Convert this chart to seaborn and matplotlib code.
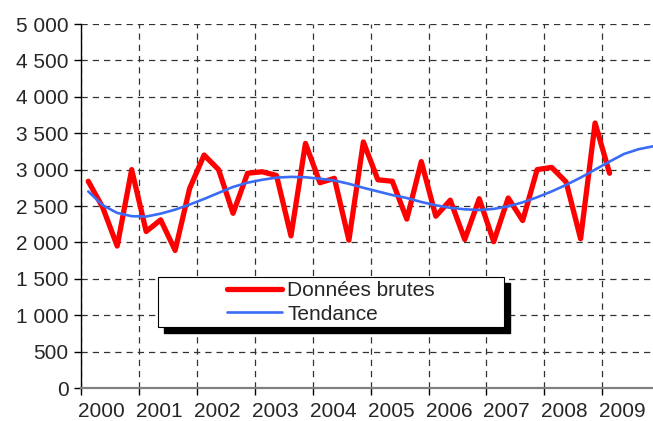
""" Quarterly raw data with its trend curve, 2000-2009. """
import numpy as np
import pandas as pd
import matplotlib
matplotlib.use('Agg')
import matplotlib.pyplot as plt
from matplotlib.patches import Rectangle
from matplotlib.ticker import MultipleLocator, FixedLocator, FuncFormatter
import seaborn as sns

# Quarterly values, 2000 Q1 .. 2009 Q1
raw_values = [2840, 2480, 1950, 3000, 2150, 2310, 1890, 2740,
              3200, 3000, 2400, 2950, 2970, 2920, 2090, 3360,
              2820, 2880, 2030, 3380, 2860, 2840, 2320, 3110,
              2360, 2580, 2040, 2600, 2010, 2610, 2300, 3000,
              3030, 2830, 2050, 3640, 2950]
# Trend curve, 2000 Q1 .. 2009 Q4
trend_values = [2700, 2510, 2405, 2360, 2355, 2395, 2450, 2520,
                2597, 2680, 2762, 2820, 2860, 2890, 2900, 2895,
                2875, 2850, 2805, 2750, 2700, 2650, 2610, 2555,
                2510, 2475, 2455, 2445, 2460, 2495, 2550, 2620,
                2700, 2790, 2890, 3000, 3110, 3215, 3280, 3320]
years = [str(y) for y in range(2000, 2010)]
raw_label = 'Données brutes'
trend_label = 'Tendance'

sns.set_style('white')
plt.rcParams['font.family'] = ['Liberation Sans', 'DejaVu Sans']
plt.rcParams['font.size'] = 15

raw = pd.DataFrame({'q': np.arange(len(raw_values)) + 0.5, 'v': raw_values})
trend = pd.DataFrame({'q': np.arange(len(trend_values)) + 0.5, 'v': trend_values})

fig = plt.figure(figsize=(6.53, 4.21), dpi=100)
ax = fig.add_axes([81 / 653, 1 - 388 / 421, 572 / 653, 364 / 421])

sns.lineplot(data=raw, x='q', y='v', ax=ax, color='#ff0000', lw=3.8,
             label=raw_label, zorder=3)
sns.lineplot(data=trend, x='q', y='v', ax=ax, color='#3a6cf5', lw=1.9,
             label=trend_label, zorder=4)

ax.set_xlim(0, 39.5)
ax.set_ylim(0, 5000)
ax.set_xlabel('')
ax.set_ylabel('')

# year boundaries as major ticks, year labels as minor ticks
ax.xaxis.set_major_locator(MultipleLocator(4))
ax.xaxis.set_major_formatter(FuncFormatter(lambda v, p: ''))
ax.xaxis.set_minor_locator(FixedLocator([4 * i + 1.4 for i in range(len(years))]))
ax.set_xticklabels(years, minor=True)
ax.tick_params(axis='x', which='major', direction='out', length=5,
               width=1, color='black', bottom=True)
ax.tick_params(axis='x', which='minor', length=0, pad=10, labelsize=15,
               bottom=True)

ax.yaxis.set_major_locator(MultipleLocator(500))
ax.yaxis.set_major_formatter(FuncFormatter(lambda v, p: f'{v:,.0f}'.replace(',', ' ')))
ax.tick_params(axis='y', direction='out', length=5, width=1, color='black',
               pad=4, labelsize=15, left=True)

ax.set_axisbelow(True)
ax.grid(True, which='major', color='#333333', lw=0.9, ls=(0, (5, 4)))

for s in ['top', 'right']:
    ax.spines[s].set_visible(False)
ax.spines['left'].set_color('black')
ax.spines['left'].set_linewidth(1)
ax.spines['bottom'].set_color('#808080')
ax.spines['bottom'].set_linewidth(1.6)

# legend box with a hard black shadow
x0, x1 = (158 - 81) / 572, (504 - 81) / 572
y0, y1 = (388 - 327) / 364, (388 - 277) / 364
dx, dy = 6 / 572, 6 / 364
ax.add_patch(Rectangle((x0 + dx, y0 - dy), x1 - x0, y1 - y0, transform=ax.transAxes,
                       facecolor='black', edgecolor='black', zorder=5))
ax.add_patch(Rectangle((x0, y0), x1 - x0, y1 - y0, transform=ax.transAxes,
                       facecolor='white', edgecolor='black', lw=0.8, zorder=6))
leg = ax.legend(loc='upper left', bbox_to_anchor=((227 - 81) / 572, (388 - 281) / 364),
                frameon=False, borderpad=0, borderaxespad=0, handlelength=2.65,
                handletextpad=0.25, labelspacing=0.22, fontsize=15)
leg.set_zorder(7)

fig.savefig('out.png', dpi=100)
